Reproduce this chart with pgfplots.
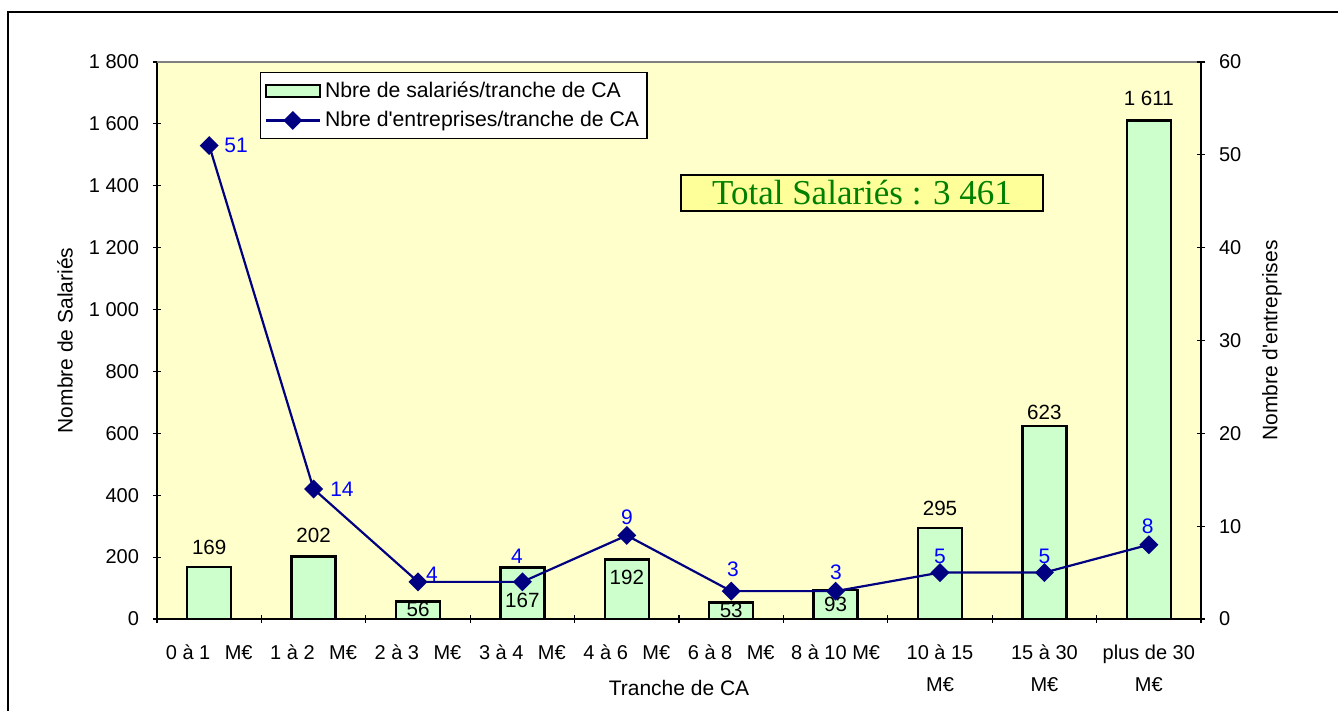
\documentclass[border=0pt]{standalone}
\usepackage{fontspec}
\setmainfont{Liberation Sans}
\newfontfamily\serifx{Liberation Serif}
\usepackage{pgfplots}
\pgfplotsset{compat=1.18}
\definecolor{bg}{HTML}{FFFFCC}
\definecolor{barc}{HTML}{CCFFCC}
\definecolor{navy}{HTML}{000080}
\definecolor{lblue}{HTML}{0000FF}
\definecolor{boxy}{HTML}{FFFF99}
\definecolor{tgreen}{HTML}{008000}
\pgfplotsset{lineleg/.style={legend image code/.code={\draw[mark repeat=2, mark phase=2, ##1] plot coordinates {(0pt,0pt) (13.5pt,0pt) (27pt,0pt)};}}}
\pgfplotsset{barleg/.style={legend image code/.code={\draw[fill=barc, draw=black, line width=1.2pt] (0pt,-3pt) rectangle (27pt,3pt);}}}
\begin{document}
\begin{tikzpicture}
\useasboundingbox (-78.5pt,-46pt) rectangle (590.5pt,309.5pt);
\draw[line width=0.6pt] (-74.5pt,-46pt) -- (-74.5pt,303.5pt) -- (590.5pt,303.5pt);
\pgfplotsset{
  common/.style={
    width=522pt, height=278.5pt, scale only axis,
    at={(0pt,0pt)}, anchor=south west,
    xmin=-0.5, xmax=9.5,
    tick align=center, major tick length=4pt, minor tick length=4pt,
    every tick/.style={black, line width=0.6pt},
    axis line style={black, line width=0.75pt},
    tick label style={font=\fontsize{10}{16}\selectfont},
    label style={font=\fontsize{10.5}{12}\selectfont},
    /pgf/number format/assume math mode=true,
    /pgf/number format/1000 sep={\ },
  }
}
\begin{axis}[common,
  axis x line*=bottom, axis y line*=left,
  axis background/.style={fill=bg},
  ymin=0, ymax=1800, ytick={0,200,...,1800},
  yticklabel shift=3.5pt,
  xtick={0,...,9},
  major x tick style={draw=none},
  minor xtick={-0.5,0.5,...,9.5},
  xticklabel style={align=center, anchor=north},
  xticklabel shift=7.5pt,
  xticklabels={{0 à 1\ \ \thinspace M€},{1 à 2\ \ \thinspace M€},{2 à 3\ \ \thinspace M€},{3 à 4\ \ \thinspace M€},{4 à 6\ \ \thinspace M€},{6 à 8\ \ \thinspace M€},{8 à 10 M€},{10 à 15\\M€},{15 à 30\\M€},{plus de 30\\M€}},
  xlabel={Tranche de CA},
  ylabel={Nombre de Salariés},
  xlabel style={at={(axis description cs:0.5,-0.1239)}, anchor=center},
  ylabel style={at={(axis description cs:-0.0881,0.5)}, anchor=center},
  clip=false,
]
\draw[gray, line width=0.75pt] (rel axis cs:0,1) -- (rel axis cs:1,1);
\addplot[ybar, bar width=22pt, fill=barc, draw=black, line width=1.2pt]
  coordinates {(0,169) (1,202) (2,56) (3,167) (4,192) (5,53) (6,93) (7,295) (8,623) (9,1611)};
\begin{scope}[every node/.style={font=\fontsize{10.3}{12}\selectfont, inner sep=0pt}]
\node at (axis cs:0,232.7) {169};
\node at (axis cs:1,271.5) {202};
\node at (axis cs:2,30) {56};
\node at (axis cs:3,61.4) {167};
\node at (axis cs:4,135.7) {192};
\node at (axis cs:5,27) {53};
\node at (axis cs:6,47) {93};
\node at (axis cs:7,358.7) {295};
\node at (axis cs:8,668.9) {623};
\node at (axis cs:9,1683.7) {1 611};
\end{scope}
\node[draw=black, line width=0.9pt, fill=boxy, minimum width=181pt, minimum height=18pt, inner sep=0pt,
  font=\serifx\fontsize{17.5}{20}\selectfont, text=tgreen] at (rel axis cs:0.6753,0.7648) {Total Salariés : 3 461};
\end{axis}
\begin{axis}[common,
  axis x line=none, axis y line*=right,
  ymin=0, ymax=60, ytick={0,10,...,60},
  yticklabel shift=3.5pt,
  ylabel={Nombre d\textquotesingle entreprises},
  ylabel style={at={(axis description cs:1.068,0.5)}, anchor=center},
  clip=false,
  legend style={at={(axis description cs:0.0987,0.982)}, anchor=north west,
    draw=black, line width=0.6pt, fill=white, font=\fontsize{10.6}{12}\selectfont,
    inner xsep=2pt, inner ysep=2.5pt, row sep=1.5pt, cells={anchor=west}},
  legend cell align=left,
]
\addlegendimage{barleg}
\addlegendentry{Nbre de salariés/tranche de CA}
\addplot[navy, line width=1.1pt, mark=square*, mark size=2.8pt, mark options={rotate=45, fill=navy}, lineleg]
  coordinates {(0,51) (1,14) (2,4) (3,4) (4,9) (5,3) (6,3) (7,5) (8,5) (9,8)};
\addlegendentry{Nbre d\textquotesingle entreprises/tranche de CA}
\begin{scope}[every node/.style={font=\fontsize{10.5}{12}\selectfont, inner sep=0pt, text=lblue}]
\node at (axis cs:0.257,51.06) {51};
\node at (axis cs:1.272,14.0) {14};
\node at (axis cs:2.134,4.85) {4};
\node at (axis cs:2.948,6.79) {4};
\node at (axis cs:4.002,10.99) {9};
\node at (axis cs:5.017,5.39) {3};
\node at (axis cs:6.004,5.06) {3};
\node at (axis cs:7.0,6.79) {5};
\node at (axis cs:8.0,6.79) {5};
\node at (axis cs:8.99,10.02) {8};
\end{scope}
\end{axis}
\end{tikzpicture}
\end{document}
